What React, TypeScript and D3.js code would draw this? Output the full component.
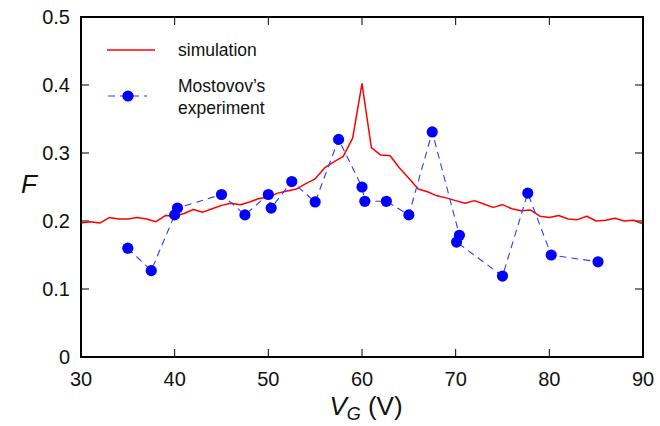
import * as d3 from "d3";

// simulation curve, sampled every 1 V
const simV = d3.range(30, 91);
const simF = [
  0.197, 0.199, 0.197, 0.205, 0.203, 0.203, 0.205, 0.203, 0.199, 0.208,
  0.207, 0.211, 0.217, 0.213, 0.218, 0.223, 0.226, 0.224, 0.228, 0.233,
  0.235, 0.241, 0.244, 0.247, 0.255, 0.262, 0.278, 0.287, 0.295, 0.322,
  0.402, 0.308, 0.297, 0.296, 0.278, 0.263, 0.247, 0.243, 0.237, 0.234,
  0.23, 0.226, 0.23, 0.225, 0.22, 0.224, 0.218, 0.215, 0.216, 0.207,
  0.205, 0.208, 0.203, 0.202, 0.207, 0.2, 0.201, 0.204, 0.2, 0.201,
  0.196,
];

// Mostovov's experiment
const expV = [35, 37.5, 40, 40.3, 45, 47.5, 50, 50.3, 52.5, 55, 57.5, 60, 60.3, 62.6, 65, 67.5, 70.4, 70.1, 75, 77.7, 80.2, 85.2];
const expF = [0.16, 0.127, 0.209, 0.219, 0.239, 0.209, 0.239, 0.219, 0.258, 0.228, 0.32, 0.25, 0.229, 0.229, 0.209, 0.331, 0.179, 0.169, 0.119, 0.241, 0.15, 0.14];

const xTicks = [30, 40, 50, 60, 70, 80, 90];
const yTicks = [0, 0.1, 0.2, 0.3, 0.4, 0.5];

const W = 660;
const H = 426;
const m = { left: 81, right: 643, top: 17, bottom: 357 };
const FONT = "'Liberation Sans', Arial, Helvetica, sans-serif";

export default function App() {
  const x = d3.scaleLinear().domain([30, 90]).range([m.left, m.right]);
  const y = d3.scaleLinear().domain([0, 0.5]).range([m.bottom, m.top]);

  const line = d3
    .line<[number, number]>()
    .x((d) => x(d[0]))
    .y((d) => y(d[1]));

  const simPath = line(simV.map((v, i) => [v, simF[i]])) ?? "";
  const expPts = expV.map((v, i) => [v, expF[i]] as [number, number]);
  const expPath = line(expPts) ?? "";
  const tick = 8;

  return (
    <div style={{ position: "absolute", left: 0, top: 0 }}>
      <svg width={W} height={H} style={{ display: "block", background: "#fff" }} fontFamily={FONT}>
        <defs>
          <clipPath id="plot">
            <rect x={m.left} y={m.top} width={m.right - m.left} height={m.bottom - m.top} />
          </clipPath>
        </defs>

        {/* ticks on all four sides, pointing in */}
        {xTicks.map((t) => (
          <g key={"x" + t}>
            <line x1={x(t)} x2={x(t)} y1={m.bottom} y2={m.bottom - tick} stroke="#000" strokeWidth={1} />
            <line x1={x(t)} x2={x(t)} y1={m.top} y2={m.top + tick} stroke="#000" strokeWidth={1} />
            <text x={x(t)} y={m.bottom + 29} textAnchor="middle" fontSize={20} fill="#111">
              {t}
            </text>
          </g>
        ))}
        {yTicks.map((t) => (
          <g key={"y" + t}>
            <line x1={m.left} x2={m.left + tick} y1={y(t)} y2={y(t)} stroke="#000" strokeWidth={1} />
            <line x1={m.right} x2={m.right - tick} y1={y(t)} y2={y(t)} stroke="#000" strokeWidth={1} />
            <text x={m.left - 11} y={y(t)} dy="0.36em" textAnchor="end" fontSize={20} fill="#111">
              {t === 0 ? "0" : d3.format(".1f")(t)}
            </text>
          </g>
        ))}

        <g clipPath="url(#plot)">
          <path d={simPath} fill="none" stroke="#ff0000" strokeWidth={1.5} strokeLinejoin="round" />
        </g>
        <path d={expPath} fill="none" stroke="#2a3cff" strokeWidth={1.1} strokeDasharray="7,5" />
        {expPts.map((p, i) => (
          <circle key={i} cx={x(p[0])} cy={y(p[1])} r={5.6} fill="#0000ff" />
        ))}

        <rect
          x={m.left}
          y={m.top}
          width={m.right - m.left}
          height={m.bottom - m.top}
          fill="none"
          stroke="#000"
          strokeWidth={2}
        />

        {/* legend */}
        <line x1={107} x2={155} y1={50} y2={50} stroke="#ff0000" strokeWidth={1.5} />
        <text x={178} y={56} fontSize={17.5} fill="#111">simulation</text>
        <line x1={107} x2={147} y1={96} y2={96} stroke="#2a3cff" strokeWidth={1.1} strokeDasharray="7,5" strokeDashoffset={-1} />
        <circle cx={128} cy={96} r={5.6} fill="#0000ff" />
        <text x={178} y={92} fontSize={17.5} fill="#111">Mostovov’s</text>
        <text x={178} y={114} fontSize={17.5} fill="#111">experiment</text>

        {/* axis titles */}
        <text x={29} y={193} textAnchor="middle" fontSize={26} fontStyle="italic" fill="#111">F</text>
        <text x={366} y={415} textAnchor="middle" fontSize={26} fill="#111">
          <tspan fontStyle="italic">V</tspan>
          <tspan fontStyle="italic" fontSize={18} dy={5}>G</tspan>
          <tspan dy={-5}> (V)</tspan>
        </text>
      </svg>
    </div>
  );
}
